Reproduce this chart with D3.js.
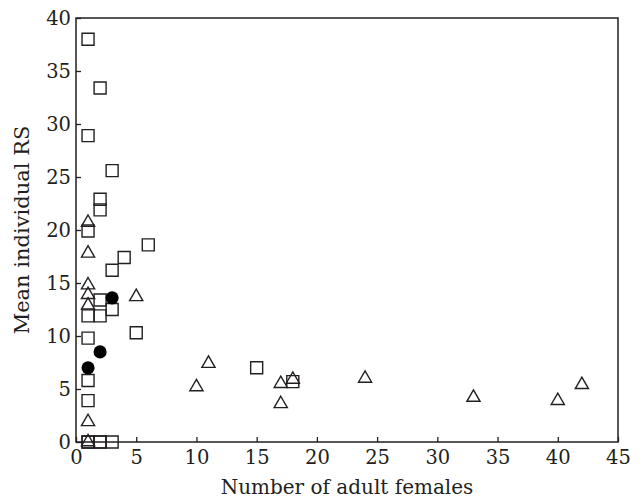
<!DOCTYPE html>
<html>
<head>
<meta charset="utf-8">
<script src="https://cdn.jsdelivr.net/npm/d3@7"></script>
<style>
  body { margin: 0; background: #fff; }
  text { font-family: "DejaVu Serif", serif; fill: #231f20; }
</style>
</head>
<body>
<div id="chart"></div>
<script>
// squares
var squareX = [1, 2, 1, 3, 2, 2, 1, 6, 4, 3, 2, 3, 1, 2, 5, 1, 1, 1, 15, 18, 1, 1, 2, 2, 3]
var squareY = [38, 33.4, 28.9, 25.6, 22.9, 21.9, 19.9, 18.6, 17.4, 16.2, 13.4, 12.5, 11.9, 11.9, 10.3, 9.8, 5.8, 3.9, 7.0, 5.7, 0, 0, 0, 0, 0]
// triangles
var triX = [1, 1, 1, 1, 1, 5, 1, 1, 10, 11, 17, 17, 18, 24, 33, 40, 42]
var triY = [20.7, 17.8, 14.8, 13.9, 12.9, 13.7, 1.9, 0, 5.2, 7.4, 5.5, 3.6, 5.9, 6.0, 4.2, 3.9, 5.4]
// filled circles
var circX = [1, 2, 3]
var circY = [7.0, 8.5, 13.6]

var xTicks = [0, 5, 10, 15, 20, 25, 30, 35, 40, 45]
var yTicks = [0, 5, 10, 15, 20, 25, 30, 35, 40]

var width = 643, height = 501
var margin = { top: 18, right: 25, bottom: 59, left: 76 }

var svg = d3.select('#chart').append('svg')
  .attr('width', width)
  .attr('height', height)

var x = d3.scaleLinear().domain([0, 45]).range([margin.left, width - margin.right])
var y = d3.scaleLinear().domain([0, 40]).range([height - margin.bottom, margin.top])

var ink = '#231f20'

var xAxis = g => g
  .attr('transform', `translate(0,${height - margin.bottom})`)
  .call(d3.axisBottom(x).tickValues(xTicks).tickSize(-5).tickPadding(8))
  .call(g => g.select('.domain').remove())

var yAxis = g => g
  .attr('transform', `translate(${margin.left},0)`)
  .call(d3.axisLeft(y).tickValues(yTicks).tickSize(-5).tickPadding(5))
  .call(g => g.select('.domain').remove())

svg.append('g').call(xAxis)
svg.append('g').call(yAxis)
svg.selectAll('.tick line').attr('stroke', ink).attr('stroke-width', 1.3)
svg.selectAll('.tick text')
  .attr('font-family', '"DejaVu Serif", serif')
  .attr('font-size', 19.5)
  .attr('fill', ink)

// frame
svg.append('rect')
  .attr('x', x(0)).attr('y', y(40))
  .attr('width', x(45) - x(0)).attr('height', y(0) - y(40))
  .attr('fill', 'none').attr('stroke', ink).attr('stroke-width', 1.5)

var sq = d3.symbol().type(d3.symbolSquare).size(144)
var tri = d3.symbol().type(d3.symbolTriangle).size(75)
var circ = d3.symbol().type(d3.symbolCircle).size(135)

svg.append('g').selectAll('path')
  .data(squareX.map((d, i) => [d, squareY[i]]))
  .enter().append('path')
  .attr('d', sq)
  .attr('transform', d => `translate(${x(d[0])},${y(d[1])})`)
  .attr('fill', 'none').attr('stroke', ink).attr('stroke-width', 1.4)

svg.append('g').selectAll('path')
  .data(triX.map((d, i) => [d, triY[i]]))
  .enter().append('path')
  .attr('d', tri)
  .attr('transform', d => `translate(${x(d[0])},${y(d[1])})`)
  .attr('fill', 'none').attr('stroke', ink).attr('stroke-width', 1.4)

svg.append('g').selectAll('path')
  .data(circX.map((d, i) => [d, circY[i]]))
  .enter().append('path')
  .attr('d', circ)
  .attr('transform', d => `translate(${x(d[0])},${y(d[1])})`)
  .attr('fill', '#000')

svg.append('text')
  .attr('x', (x(0) + x(45)) / 2)
  .attr('y', 494)
  .attr('text-anchor', 'middle')
  .attr('font-size', 20)
  .text('Number of adult females')

svg.append('text')
  .attr('transform', `translate(29,${(y(0) + y(40)) / 2}) rotate(-90)`)
  .attr('text-anchor', 'middle')
  .attr('font-size', 21)
  .text('Mean individual RS')
</script>
</body>
</html>
